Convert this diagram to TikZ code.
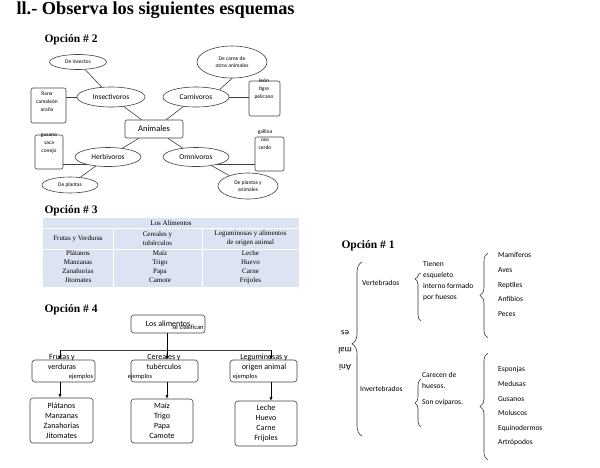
\documentclass[tikz,border=0pt]{standalone}
\usepackage{fontspec}
\setmainfont{Liberation Serif}
\setsansfont{Carlito}
\usetikzlibrary{shapes.geometric,decorations.pathreplacing,arrows.meta}

\definecolor{tablaazul}{HTML}{DCE3F2}

\tikzset{
  titulo/.style={anchor=west, font=\bfseries\fontsize{18.3}{20}\selectfont},
  opcion/.style={anchor=west, font=\bfseries\fontsize{11.5}{13}\selectfont},
  ovalo/.style={ellipse, draw=black!75, line width=0.6pt, inner sep=0pt, font=\sffamily\fontsize{7.5}{8}\selectfont},
  ovalochico/.style={ovalo, align=center, font=\sffamily\fontsize{5.5}{6.5}\selectfont},
  caja/.style={draw=black!75, rounded corners=2pt, line width=0.6pt, inner sep=0pt, align=center},
  chico/.style={align=center, inner sep=0pt, font=\sffamily\fontsize{5.5}{8}\selectfont},
  celda/.style={align=center, inner sep=0pt, font=\fontsize{7}{9}\selectfont},
  caja4/.style={draw=black!75, rounded corners=3pt, line width=0.6pt, inner sep=0pt, align=center, font=\sffamily\fontsize{8}{10}\selectfont},
  texto4/.style={align=center, inner sep=0pt, font=\sffamily\fontsize{8}{10}\selectfont},
  ejem/.style={inner sep=0pt, font=\sffamily\fontsize{6.5}{7}\selectfont},
  flecha/.style={-{Latex[length=3.5pt,width=3pt]}, line width=0.6pt},
  linea/.style={draw=black!75, line width=0.6pt},
  texto1/.style={anchor=west, inner sep=0pt, align=left, font=\sffamily\fontsize{7.5}{11}\selectfont},
  llave/.style={decorate, line width=0.6pt, draw=black!80}
}

\begin{document}
\begin{tikzpicture}[x=1pt, y=-1pt]
  \useasboundingbox (0,0) rectangle (600,467);

  \node[titulo] (tit) at (13,10) {ll.- Observa los siguientes esquemas};

  % Opcion 2: mapa de los animales
  \node[opcion] (op2) at (41,40) {Opción \# 2};
  \node[caja, minimum width=58, minimum height=18, font=\sffamily\fontsize{8.5}{9}\selectfont] (anim) at (154,129) {Animales};
  \node[ovalo, minimum width=68, minimum height=20] (insect) at (111,97) {Insectivoros};
  \node[ovalo, minimum width=66, minimum height=20] (carni) at (196,97) {Carnivoros};
  \node[ovalo, minimum width=66, minimum height=19] (herbi) at (108,157) {Herbivoros};
  \node[ovalo, minimum width=66, minimum height=19] (omni) at (196,157) {Omnivoros};
  \node[ovalochico, minimum width=57, minimum height=15] (deins) at (78,62) {De insectos};
  \node[ovalochico, minimum width=70, minimum height=32] (carne) at (232,62) {De carne de\\otros animales};
  \node[ovalochico, minimum width=56, minimum height=16] (deplan) at (70,185) {De plantas};
  \node[ovalochico, minimum width=60, minimum height=26] (plananim) at (248,186) {De plantas y\\animales};
  \node[caja, minimum width=35, minimum height=35] (rana) at (48.5,105.5) {};
  \node[chico] (ranatxt) at (47,102) {Rana\\camaleón\\araña};
  \node[caja, minimum width=31, minimum height=35] (leon) at (264.5,98.5) {};
  \node[chico] (leontxt) at (264,89) {león\\tigre\\pelicano};
  \node[caja, minimum width=28, minimum height=34] (gusano) at (49,152) {};
  \node[chico] (gusanotxt) at (49,144) {gusano\\vaca\\conejo};
  \node[caja, minimum width=29, minimum height=34] (gallina) at (269.5,154) {};
  \node[chico] (gallinatxt) at (265,140) {gallina\\oso\\cerdo};

  \draw[linea] (deins) -- (insect);
  \draw[linea] (insect.west) -- (insect.west -| rana.east);
  \draw[linea] (insect) -- (anim);
  \draw[linea] (carni) -- (anim);
  \draw[linea] (carni.north east) -- (carne.south);
  \draw[linea] (carni.east) -- (carni.east -| leon.west);
  \draw[linea] (herbi) -- (anim);
  \draw[linea] (omni) -- (anim);
  \draw[linea] (herbi.200) -- (herbi.200 -| gusano.east);
  \draw[linea] (omni.340) -- (omni.340 -| gallina.west);
  \draw[linea] (herbi) -- (deplan);
  \draw[linea] (omni) -- (plananim);

  % Opcion 3: tabla de los alimentos
  \node[opcion] (op3) at (41,211) {Opción \# 3};
  \fill[tablaazul] (43,218) rectangle (299,287);
  \draw[white, line width=1pt] (43,228) -- (299,228) (43,249) -- (299,249)
    (113,228) -- (113,287) (202,228) -- (202,287);
  \node[celda] (t0) at (171,223) {Los Alimentos};
  \node[celda] (t1) at (78,238.5) {Frutas y Verduras};
  \node[celda] (t2) at (157.5,238.5) {Cereales y\\tubérculos};
  \node[celda] (t3) at (250.5,238.5) {Leguminosas y alimentos\\de origen animal};
  \node[celda] (t4) at (78,267) {Plátanos\\Manzanas\\Zanahorias\\Jitomates};
  \node[celda] (t5) at (160,267) {Maíz\\Trigo\\Papa\\Camote};
  \node[celda] (t6) at (250.5,267) {Leche\\Huevo\\Carne\\Frijoles};

  % Opcion 4: cuadro de los alimentos
  \node[opcion] (op4) at (41,310) {Opción \# 4};
  \node[caja4, minimum width=74, minimum height=18] (losal) at (168,324) {Los alimentos};
  \node[ejem] (clasif) at (188,327.5) {se clasifican};
  \node[caja4, minimum width=63, minimum height=22] (frutas) at (63.5,371) {};
  \node[caja4, minimum width=67, minimum height=22] (cereal) at (164.5,371) {};
  \node[caja4, minimum width=67, minimum height=22] (legum) at (263.5,371) {};
  \node[texto4] (frutastxt) at (62,362) {Frutas y\\verduras};
  \node[texto4] (cerealtxt) at (164,362) {Cereales y\\tubérculos};
  \node[texto4] (legumtxt) at (264,362) {Leguminosas y\\origen animal};
  \node[ejem] (ej1) at (81,376.5) {ejemplos};
  \node[ejem] (ej2) at (140,376.5) {ejemplos};
  \node[ejem] (ej3) at (245,376.5) {ejemplos};
  \node[caja4, minimum width=63, minimum height=45] (platan) at (61.5,420.5) {Plátanos\\Manzanas\\Zanahorias\\Jitomates};
  \node[caja4, minimum width=62, minimum height=44] (maiz) at (162,421) {Maíz\\Trigo\\Papa\\Camote};
  \node[caja4, minimum width=62, minimum height=45] (leche) at (266,423.5) {Leche\\Huevo\\Carne\\Frijoles};
  \coordinate (ramaizq) at (60,350);
  \coordinate (ramader) at (271,350);
  \draw[linea] (ramaizq) -- (ramader);
  \draw[flecha] (losal.south -| 167,0) -- (167,0 |- cereal.north);
  \draw[flecha] (ramaizq) -- (ramaizq |- frutas.north);
  \draw[flecha] (ramader) -- (ramader |- legum.north);
  \draw[flecha] (frutas.south -| ramaizq) -- (ramaizq |- platan.north);
  \draw[flecha] (cereal.south -| 167,0) -- (167,0 |- maiz.north);
  \draw[flecha] (legum.south -| ramader) -- (ramader |- leche.north);

  % Opcion 1: cuadro sinoptico
  \node[opcion] (op1) at (338,246) {Opción \# 1};
  \node[rotate=180, align=center, inner sep=0pt, font=\sffamily\fontsize{9}{17}\selectfont] (animrot) at (345,351) {Ani\\mal\\es};
  \draw[llave, decoration={brace, amplitude=10pt, aspect=0.53}] (362,436) -- (362,262);
  \node[texto1] (vert) at (362,283) {Vertebrados};
  \node[texto1] (invert) at (360,389) {Invertebrados};
  \draw[llave, decoration={brace, amplitude=6pt, aspect=0.88}] (421,321) -- (421,273);
  \draw[llave, decoration={brace, amplitude=6pt, aspect=0.5}] (421,427) -- (421,379);
  \node[texto1] (tienen) at (423,281.5) {Tienen\\esqueleto\\interno formado\\por huesos};
  \node[texto1] (carecen) at (422,380) {Carecen de\\huesos.};
  \node[texto1] (ovip) at (422,403) {Son ovíparos.};
  \draw[llave, decoration={brace, amplitude=8pt, aspect=0.5}] (488,338) -- (488,253);
  \draw[llave, decoration={brace, amplitude=8pt, aspect=0.5}] (488,460) -- (488,353);
  \node[texto1, font=\sffamily\fontsize{7.5}{14.7}\selectfont] (verlista) at (498,284.5) {Mamíferos\\Aves\\Reptiles\\Anfibios\\Peces};
  \node[texto1, font=\sffamily\fontsize{7.5}{14.6}\selectfont] (invlista) at (498,406.5) {Esponjas\\Medusas\\Gusanos\\Moluscos\\Equinodermos\\Artrópodos};
\end{tikzpicture}
\end{document}
